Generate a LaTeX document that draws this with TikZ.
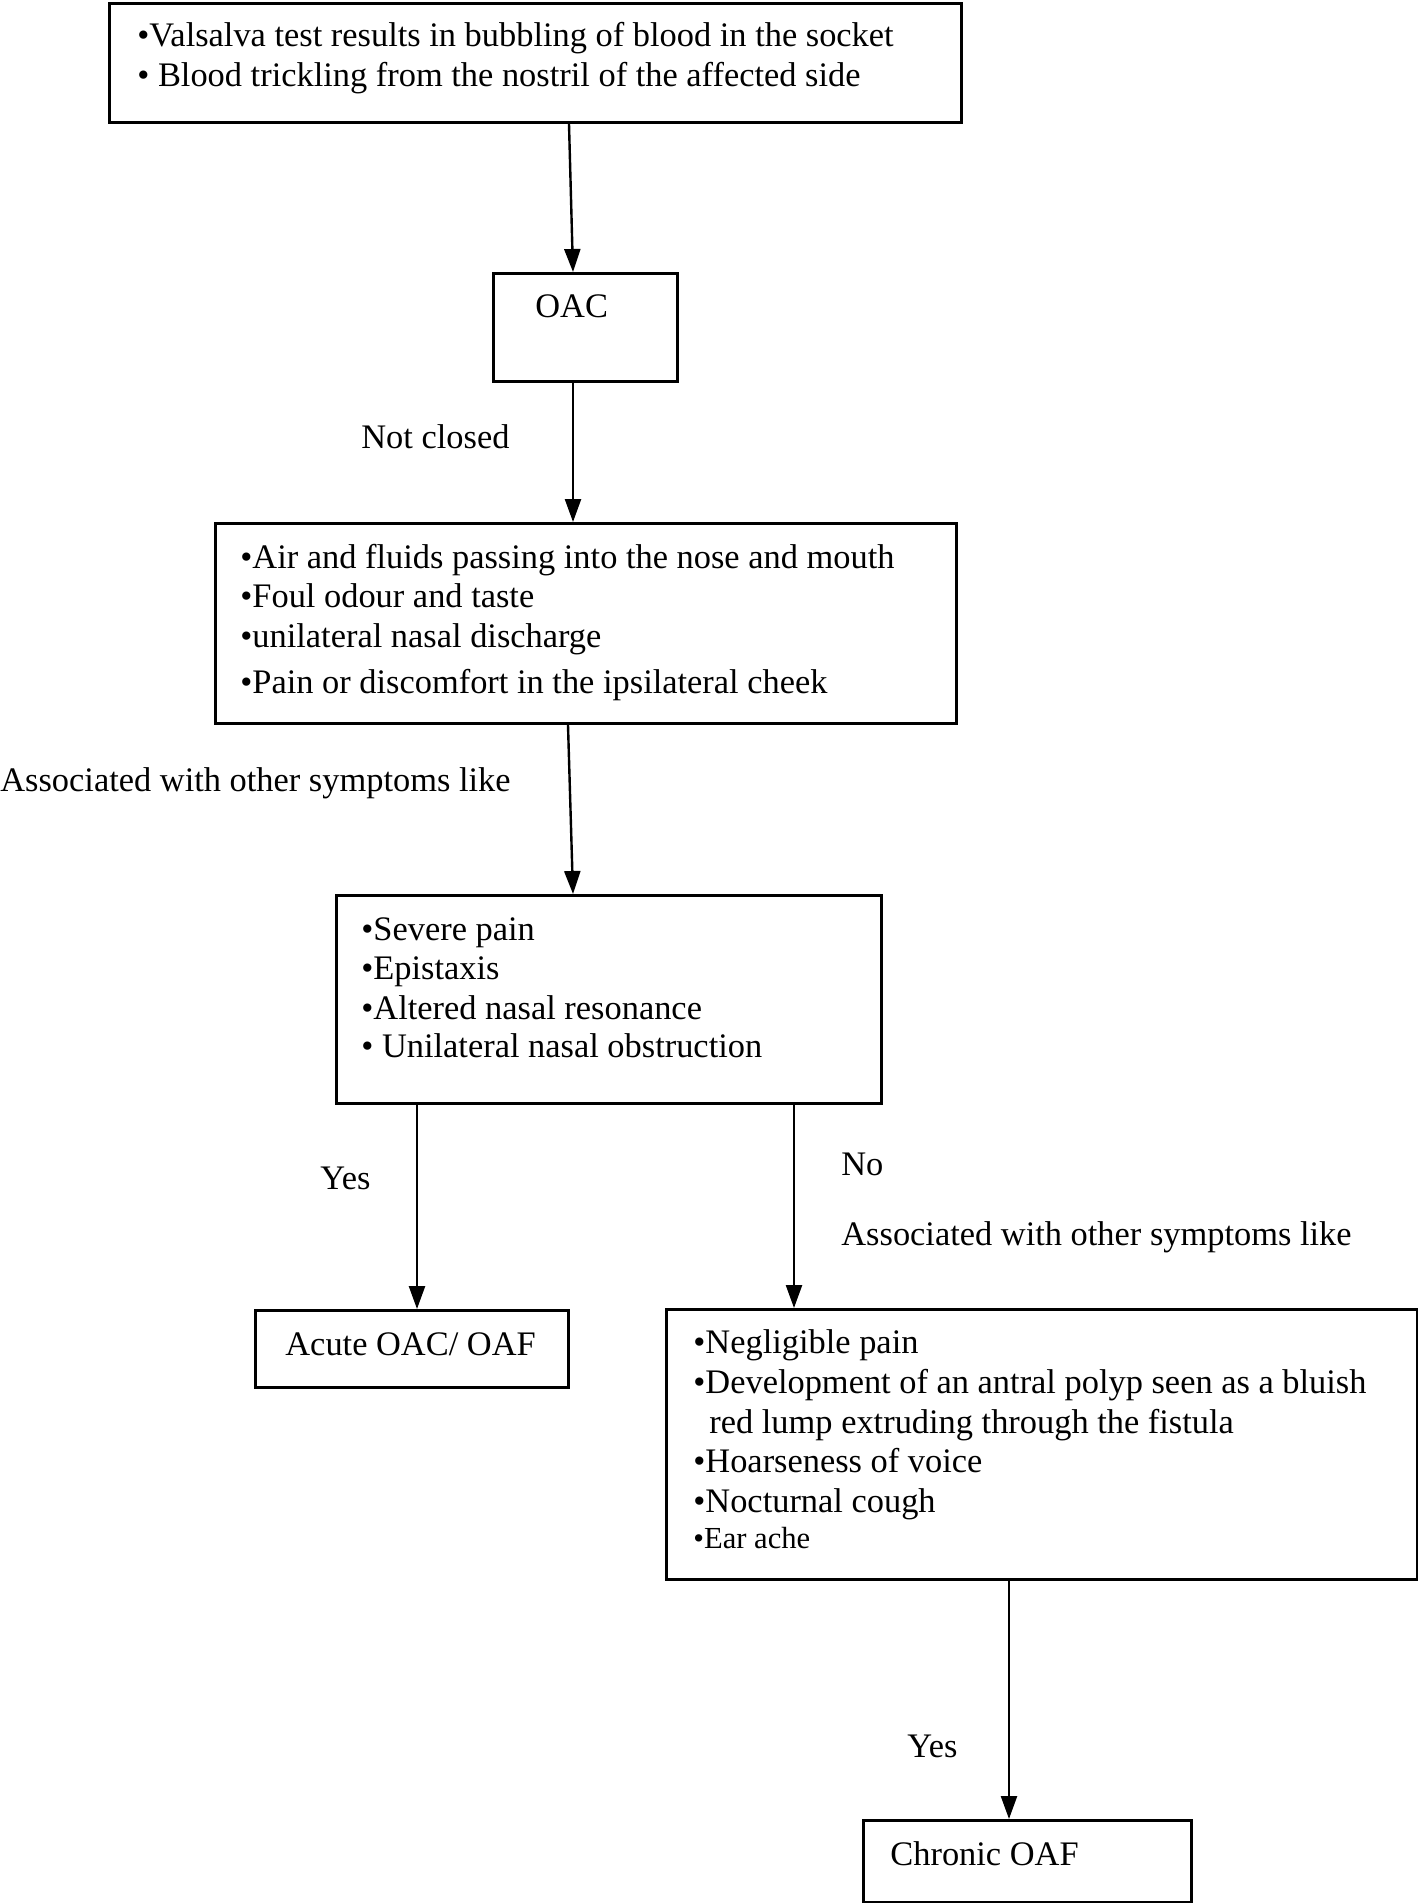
\documentclass[tikz,border=0pt]{standalone}
\usepackage{fontspec}
\setmainfont{Liberation Serif}
\usetikzlibrary{arrows.meta,calc}
\begin{document}
\begin{tikzpicture}[x=0.5pt,y=-0.5pt,
  box/.style={draw,line width=1.5pt,inner sep=0pt,anchor=north west},
  txt/.style={anchor=base west,inner sep=0pt,font=\fontsize{17.2}{20}\selectfont},
  smalltxt/.style={anchor=base west,inner sep=0pt,font=\fontsize{15.3}{18}\selectfont},
  arr/.style={line width=1.2pt,-{Triangle[length=11.5pt,width=8pt]}}]
\useasboundingbox (0,0) rectangle (1418,1903);
% boxes
\node[box,minimum width=426pt,minimum height=59.75pt] (b1) at (108,1.5) {};
\node[box,minimum width=92pt,minimum height=54pt] (oac) at (492,272) {};
\node[box,minimum width=370.5pt,minimum height=100pt] (b3) at (214,522) {};
\node[box,minimum width=272.5pt,minimum height=104pt] (b4) at (335,894) {};
\node[box,minimum width=156.5pt,minimum height=38.5pt] (acute) at (254,1309) {};
\node[box,minimum width=375.5pt,minimum height=135pt] (b6) at (665,1308) {};
\node[box,minimum width=164pt,minimum height=41pt] (chronic) at (862,1819) {};
% texts in boxes
\node[txt] (t1a) at (137,46) {•Valsalva test results in bubbling of blood in the socket};
\node[txt] (t1b) at (137,86) {• Blood trickling from the nostril of the affected side};
\node[txt] (toac) at (535,317) {OAC};
\node[txt] (t3a) at (240,568) {•Air and fluids passing into the nose and mouth};
\node[txt] (t3b) at (240,607) {•Foul odour and taste};
\node[txt] (t3c) at (240,647) {•unilateral nasal discharge};
\node[txt] (t3d) at (240,693) {•Pain or discomfort in the ipsilateral cheek};
\node[txt] (t4a) at (361,940) {•Severe pain};
\node[txt] (t4b) at (361,979) {•Epistaxis};
\node[txt] (t4c) at (361,1019) {•Altered nasal resonance};
\node[txt] (t4d) at (361,1057) {• Unilateral nasal obstruction};
\node[txt] (tacute) at (285,1355) {Acute OAC/ OAF};
\node[txt] (t6a) at (693,1353) {•Negligible pain};
\node[txt] (t6b) at (693,1393) {•Development of an antral polyp seen as a bluish};
\node[txt] (t6c) at (709,1433) {red lump extruding through the fistula};
\node[txt] (t6d) at (693,1472) {•Hoarseness of voice};
\node[txt] (t6e) at (693,1512) {•Nocturnal cough};
\node[smalltxt] (t6f) at (693,1548) {•Ear ache};
\node[txt] (tchronic) at (890,1865) {Chronic OAF};
% free labels
\node[txt] (lnot) at (361,448) {Not closed};
\node[txt] (lassoc1) at (0,791) {Associated with other symptoms like};
\node[txt] (lyes1) at (320,1189) {Yes};
\node[txt] (lno) at (841,1175) {No};
\node[txt] (lassoc2) at (841,1245) {Associated with other symptoms like};
\node[txt] (lyes2) at (907,1757) {Yes};
% connectors
\draw[arr] ($(b1.south west)+(461,0)$) -- ($(oac.north west)+(81,0)$);
\draw[arr] ($(oac.south west)+(81,0)$) -- ($(b3.north west)+(359,0)$);
\draw[arr] ($(b3.south west)+(354,0)$) -- ($(b4.north west)+(238,0)$);
\draw[arr] ($(b4.south west)+(82,0)$) -- ($(acute.north west)+(163,0)$);
\draw[arr] ($(b4.south west)+(459,0)$) -- ($(b6.north west)+(129,0)$);
\draw[arr] ($(b6.south west)+(344,0)$) -- ($(chronic.north west)+(147,0)$);
\end{tikzpicture}
\end{document}
